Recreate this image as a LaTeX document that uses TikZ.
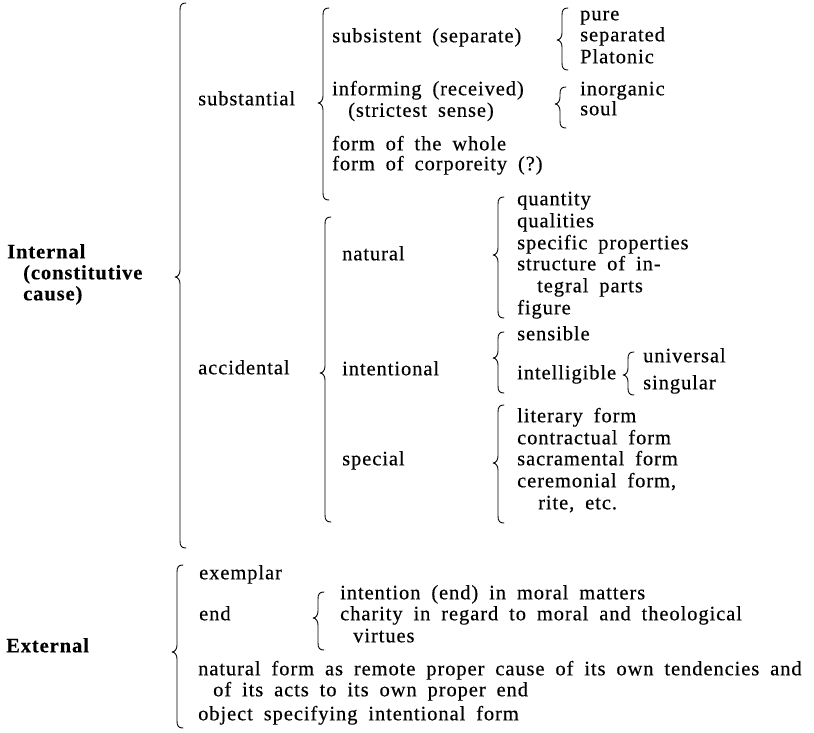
\documentclass[tikz,border=0pt]{standalone}
\usepackage{fontspec}
\setmainfont{Liberation Serif}[LetterSpace=4.5, WordSpace=1.8, FakeBold=0.3]
\tikzset{
  t/.style={anchor=mid west, inner sep=0pt, font=\fontsize{20.5}{22}\selectfont},
  tb/.style={t, font=\fontsize{20.5}{22}\selectfont\bfseries},
  bracel/.style={line width=0.9pt, line cap=round, line join=round}
}
\newcommand\mybrace[4]{%
  \draw[bracel] (#1+6,#2) .. controls (#1+1.5,#2) and (#1,#2+2) .. (#1,#2+7)
    -- (#1,#3-7) .. controls (#1,#3-3) and (#1-2,#3) .. (#1-5,#3)
    .. controls (#1-2,#3) and (#1,#3+3) .. (#1,#3+7)
    -- (#1,#4-7) .. controls (#1,#4-2) and (#1+1.5,#4) .. (#1+6,#4);}
\begin{document}
\begin{tikzpicture}[x=1pt,y=-1pt]
\useasboundingbox (0,0) rectangle (814,732);
% Internal
\node[tb] (int1) at (7,256) {Internal};
\node[tb] (int2) at (23,277) {(constitutive};
\node[tb] (int3) at (23,298) {cause)};
\mybrace{180}{3}{277}{548}
% substantial
\node[t] (subst) at (198,103) {substantial};
\mybrace{323}{8}{103}{200}
\node[t] (subsis) at (332,40) {subsistent (separate)};
\mybrace{562}{8}{40}{70}
\node[t] (pure) at (580,18) {pure};
\node[t] (sep) at (580,39) {separated};
\node[t] (plat) at (580,61) {Platonic};
\node[t] (inf1) at (332,93) {informing (received)};
\node[t] (inf2) at (348,114.5) {(strictest sense)};
\mybrace{560}{87}{104}{128}
\node[t] (inorg) at (580,93) {inorganic};
\node[t] (soul) at (580,113) {soul};
\node[t] (whole) at (332,148) {form of the whole};
\node[t] (corp) at (332,168) {form of corporeity (?)};
% accidental
\node[t] (acc) at (198,372) {accidental};
\mybrace{325}{217}{373}{522}
\node[t] (nat) at (342,258) {natural};
\mybrace{498}{197}{255}{318}
\node[t] (quan) at (517,203) {quantity};
\node[t] (qual) at (517,225) {qualities};
\node[t] (spec) at (517,247) {specific properties};
\node[t] (str1) at (517,268) {structure of in-};
\node[t] (str2) at (537,290) {tegral parts};
\node[t] (fig) at (517,312) {figure};
\node[t] (intl) at (342,373) {intentional};
\mybrace{498}{332}{358}{393}
\node[t] (sens) at (517,338) {sensible};
\node[t] (intell) at (517,377) {intelligible};
\mybrace{628}{352}{375}{395}
\node[t] (univ) at (643,360) {universal};
\node[t] (sing) at (643,387) {singular};
\node[t] (spcl) at (342,463) {special};
\mybrace{498}{405}{463}{523}
\node[t] (lit) at (517,420) {literary form};
\node[t] (contr) at (517,442) {contractual form};
\node[t] (sacr) at (517,463) {sacramental form};
\node[t] (cer1) at (517,485) {ceremonial form,};
\node[t] (cer2) at (538,507) {rite, etc.};
% External
\node[tb] (ext) at (6,650) {External};
\mybrace{177}{565}{652}{728}
\node[t] (exem) at (199,577) {exemplar};
\node[t] (end) at (199,618) {end};
\mybrace{318}{592}{618}{650}
\node[t] (inten) at (340,597) {intention (end) in moral matters};
\node[t] (char1) at (340,618) {charity in regard to moral and theological};
\node[t] (char2) at (353,640) {virtues};
\node[t] (natf1) at (198,673) {natural form as remote proper cause of its own tendencies and};
\node[t] (natf2) at (213,694) {of its acts to its own proper end};
\node[t] (obj) at (198,718) {object specifying intentional form};
\end{tikzpicture}
\end{document}
